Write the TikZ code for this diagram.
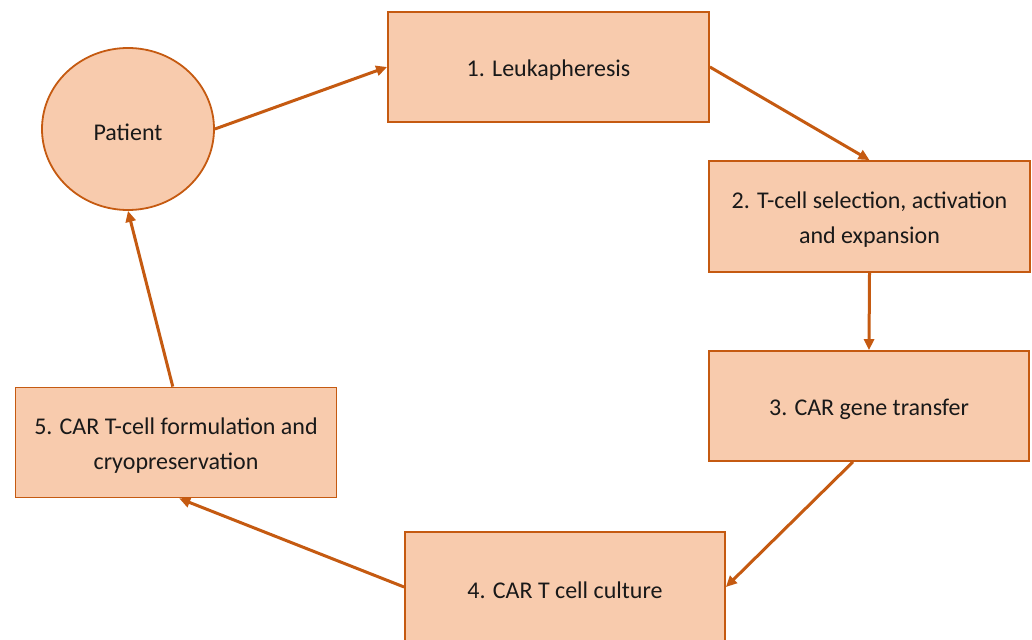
\documentclass[tikz,border=0pt]{standalone}
\usepackage{fontspec}
\setmainfont{Carlito}
\usetikzlibrary{arrows.meta,calc,shapes.geometric}
\definecolor{boxfill}{HTML}{F8CBAD}
\definecolor{boxline}{HTML}{C55A11}
\tikzset{
  boxtext/.style={align=center, inner sep=0pt, font=\fontsize{24}{35}\selectfont, text=black!90, yshift=-3pt},
  stepbox/.style={draw=boxline, line width=1.8pt, fill=boxfill, minimum width=321pt, minimum height=110pt, inner sep=0pt},
  patientnode/.style={ellipse, draw=boxline, line width=1.8pt, fill=boxfill, minimum width=172pt, minimum height=162pt, inner sep=0pt},
  flow/.style={draw=boxline, line width=3pt, -{Triangle[length=11pt,width=10pt]}}
}
\begin{document}
\begin{tikzpicture}[x=1pt,y=-1pt]
\useasboundingbox (0,0) rectangle (1032,639);
\node[patientnode, label={[boxtext]center:Patient}] (p) at (128,129) {};
\node[stepbox, label={[boxtext]center:1. Leukapheresis}] (b1) at (548.5,67) {};
\node[stepbox, minimum height=111pt, label={[boxtext]center:2. T-cell selection, activation\\and expansion}] (b2) at (869.5,216.5) {};
\node[stepbox, minimum width=320pt, label={[boxtext]center:3. CAR gene transfer}] (b3) at (869,406) {};
\node[stepbox, minimum width=320pt, label={[boxtext]center:4. CAR T cell culture}] (b4) at (565,587) {};
\node[stepbox, label={[boxtext]center:5. CAR T-cell formulation and\\cryopreservation}] (b5) at (176,442.5) {};
\coordinate (b3out) at ($(b3.south west)!0.45!(b3.south east)$);
\coordinate (b5in) at ($(b5.south west)!0.51!(b5.south east)$);
\coordinate (b5out) at ($(b5.north west)!0.49!(b5.north east)$);
\draw[flow] (p.east) -- (b1.west);
\draw[flow] (b1.east) -- (b2.north);
\draw[flow] (b2.south) -- (b3.north);
\draw[flow] (b3out) -- (b4.east);
\draw[flow] (b4.west) -- (b5in);
\draw[flow] (b5out) -- (p.south);
\end{tikzpicture}
\end{document}
